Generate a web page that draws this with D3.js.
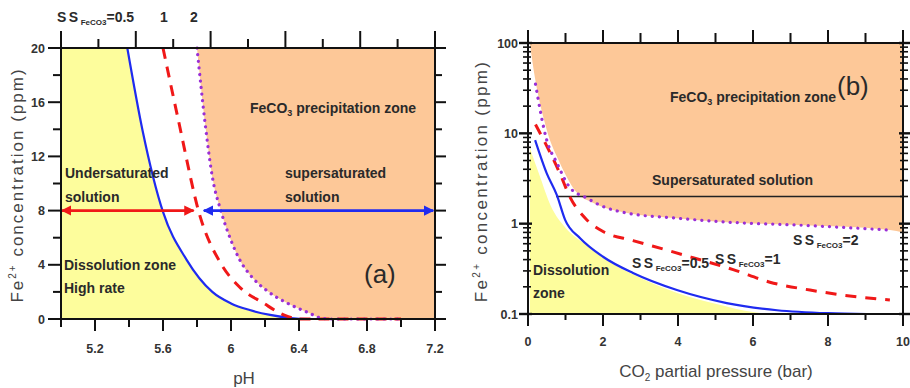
<!DOCTYPE html>
<html lang="en">
  <head>
    <meta charset="utf-8">
    <title>Fe2+ concentration vs pH and CO2 partial pressure</title>
    <style>
      body {
        margin: 0;
        background: #fff;
        font-family: "Liberation Sans", Arial, Helvetica, sans-serif
      }
      text { fill: #2a2a2a; }
      .zone { font-size: 14px; font-weight: bold; }
      .tick-label { font-size: 12.5px; font-weight: bold; fill: #333; }
      .axis-title { font-size: 17px; fill: #444; }
    </style>
  </head>
  <body>
    <div class="graph"></div>

    <script src="https://d3js.org/d3.v7.min.js"></script>
    <script>
      // ---- panel (a): Fe2+ (ppm) vs pH ----
      var phTicks = [5.2, 5.6, 6, 6.4, 6.8, 7.2];
      var ppmTicks = [0, 4, 8, 12, 16, 20];

      var phBlue = [5.39, 5.48, 5.60, 5.74, 5.89, 6.0, 6.11, 6.23, 6.35, 6.45, 7.0];
      var feBlue = [20, 13.9, 7.9, 4.35, 2.0, 1.15, 0.66, 0.3, 0.07, 0, 0];

      var phRed = [5.60, 5.69, 5.82, 5.94, 6.05, 6.19, 6.31, 6.40, 7.0];
      var feRed = [20, 14.7, 7.5, 4.1, 2.36, 1.18, 0.3, 0, 0];

      var phPurple = [5.80, 5.85, 5.89, 5.94, 6.00, 6.05, 6.13, 6.21, 6.33, 6.46, 6.53, 6.60, 7.0];
      var fePurple = [20, 14.2, 10.5, 8.0, 5.8, 4.4, 3.0, 2.1, 1.18, 0.44, 0.07, 0, 0];

      var arrowLevel = 8;
      var phUnder = [5.0, 5.78];
      var phSuper = [5.84, 7.19];

      // ---- panel (b): Fe2+ (ppm, log) vs CO2 partial pressure (bar) ----
      var pTicks = [0, 2, 4, 6, 8, 10];
      var logTicks = [0.1, 1, 10, 100];

      var pBlue = [0.19, 0.5, 0.77, 0.99, 1.39, 2.0, 2.8, 3.97, 5.3, 6.64, 8.0, 9.04];
      var feBlueB = [8.4, 3.6, 2.07, 1.1, 0.69, 0.43, 0.284, 0.184, 0.132, 0.110, 0.102, 0.1];

      var pRed = [0.2, 0.32, 0.85, 1.12, 1.57, 2.0, 2.8, 3.7, 4.4, 5.47, 6.45, 7.52, 8.4, 9.65];
      var feRedB = [12.5, 10.1, 3.6, 1.97, 1.1, 0.82, 0.65, 0.51, 0.42, 0.31, 0.225, 0.184, 0.162, 0.143];

      var pPurple = [0.2, 0.5, 0.77, 1.12, 1.57, 1.92, 2.64, 3.97, 5.3, 7.07, 9.65];
      var fePurpleB = [35, 8.4, 4.7, 2.5, 1.92, 1.6, 1.31, 1.15, 1.04, 0.97, 0.85];

      var pOrange = [0.05, 0.1, 0.5, 0.85, 1.31, 1.73, 2.64, 3.97, 5.3, 7.07, 9.65, 10];
      var feOrange = [100, 70, 10.9, 4.7, 2.18, 1.7, 1.31, 1.15, 1.04, 0.97, 0.85, 0.8];

      var pYellow = [0.05, 0.3, 0.6, 1.0, 1.5, 2.0, 3.0, 4.0, 5.0, 6.0, 6.4];
      var feYellow = [6.9, 3.5, 1.6, 0.9, 0.6, 0.42, 0.25, 0.17, 0.13, 0.105, 0.1];

      var pSuperLine = [0.75, 10];
      var superLevel = 2;

      var BLUE = '#1f2bf0', RED = '#f01818', PURPLE = '#9a2fd6',
          YELLOW = '#fdfd9c', ORANGE = '#fdc898';

      function zip(xs, ys) {
        return xs.map(function(v, i) { return [v, ys[i]]; });
      }

      var svg = d3.select('.graph')
                  .append('svg')
                  .attr('width', 910)
                  .attr('height', 388);

      var defs = svg.append('defs');
      [['red', RED], ['blue', BLUE]].forEach(function(m) {
        defs.append('marker')
            .attr('id', 'head-' + m[0])
            .attr('viewBox', '0 0 10 10')
            .attr('refX', 9).attr('refY', 5)
            .attr('markerWidth', 4).attr('markerHeight', 4)
            .attr('orient', 'auto-start-reverse')
            .append('path')
            .attr('d', 'M0,0L10,5L0,10Z')
            .attr('fill', m[1]);
      });

      // ================= panel (a) =================
      var xA = d3.scaleLinear().domain([5.0, 7.2]).range([61, 435]);
      var yA = d3.scaleLinear().domain([0, 20]).range([319, 48]);
      var gA = svg.append('g');

      var lineA = d3.line()
                    .x(function(d) { return xA(d[0]); })
                    .y(function(d) { return yA(d[1]); })
                    .curve(d3.curveMonotoneX);

      var blueA = zip(phBlue, feBlue), redA = zip(phRed, feRed), purA = zip(phPurple, fePurple);

      // yellow dissolution zone (left of blue curve)
      gA.append('path')
        .attr('d', lineA(blueA.slice(0, 10)) + 'L' + xA(5.0) + ',' + yA(0) + 'L' + xA(5.0) + ',' + yA(20) + 'Z')
        .attr('fill', YELLOW);
      // orange precipitation zone (right of purple curve)
      gA.append('path')
        .attr('d', lineA(purA.slice(0, 12)) + 'L' + xA(7.2) + ',' + yA(0) + 'L' + xA(7.2) + ',' + yA(20) + 'Z')
        .attr('fill', ORANGE);

      gA.append('path').attr('d', lineA(blueA)).attr('fill', 'none')
        .attr('stroke', BLUE).attr('stroke-width', 2.2);
      gA.append('path').attr('d', lineA(redA)).attr('fill', 'none')
        .attr('stroke', RED).attr('stroke-width', 3).attr('stroke-dasharray', '11,8');
      gA.append('path').attr('d', lineA(purA)).attr('fill', 'none')
        .attr('stroke', PURPLE).attr('stroke-width', 3.2)
        .attr('stroke-dasharray', '0.1,6.5').attr('stroke-linecap', 'round');

      // arrows at 8 ppm
      gA.append('line')
        .attr('x1', xA(phUnder[0]) + 1).attr('x2', xA(phUnder[1]))
        .attr('y1', yA(arrowLevel)).attr('y2', yA(arrowLevel))
        .attr('stroke', RED).attr('stroke-width', 2.6)
        .attr('marker-start', 'url(#head-red)').attr('marker-end', 'url(#head-red)');
      gA.append('line')
        .attr('x1', xA(phSuper[0])).attr('x2', xA(phSuper[1]))
        .attr('y1', yA(arrowLevel)).attr('y2', yA(arrowLevel))
        .attr('stroke', BLUE).attr('stroke-width', 2.6)
        .attr('marker-start', 'url(#head-blue)').attr('marker-end', 'url(#head-blue)');

      // frame
      gA.append('rect')
        .attr('x', xA(5.0)).attr('y', yA(20))
        .attr('width', xA(7.2) - xA(5.0)).attr('height', yA(0) - yA(20))
        .attr('fill', 'none').attr('stroke', '#111').attr('stroke-width', 2);

      // bottom axis ticks
      var phMinor = d3.range(5.0, 7.21, 0.2);
      gA.selectAll('.bt').data(phMinor).enter().append('line')
        .attr('x1', function(d) { return xA(d); }).attr('x2', function(d) { return xA(d); })
        .attr('y1', yA(0)).attr('y2', function(d) {
          return phTicks.some(function(t) { return Math.abs(t - d) < 1e-6; }) ? yA(0) + 12 : yA(0) + 8;
        })
        .attr('stroke', '#111').attr('stroke-width', 2);
      gA.selectAll('.bl').data(phTicks).enter().append('text')
        .attr('class', 'tick-label')
        .attr('x', function(d) { return xA(d); }).attr('y', 353)
        .attr('text-anchor', 'middle')
        .text(function(d) { return d; });

      // top axis ticks (ten divisions)
      var topDiv = d3.range(0, 11);
      gA.selectAll('.tt').data(topDiv).enter().append('line')
        .attr('x1', function(d) { return xA(5.0 + d * 0.22); })
        .attr('x2', function(d) { return xA(5.0 + d * 0.22); })
        .attr('y1', yA(20)).attr('y2', function(d) { return d % 2 === 0 ? yA(20) - 17 : yA(20) - 9; })
        .attr('stroke', '#111').attr('stroke-width', 2);

      // left / right axis ticks
      var ppmMinor = d3.range(0, 21, 2);
      gA.selectAll('.lt').data(ppmMinor).enter().append('line')
        .attr('x1', xA(5.0)).attr('x2', function(d) { return d % 4 === 0 ? xA(5.0) - 13 : xA(5.0) - 8; })
        .attr('y1', function(d) { return yA(d); }).attr('y2', function(d) { return yA(d); })
        .attr('stroke', '#111').attr('stroke-width', 2);
      gA.selectAll('.rt').data(ppmMinor).enter().append('line')
        .attr('x1', xA(7.2)).attr('x2', function(d) { return d % 4 === 0 ? xA(7.2) + 11 : xA(7.2) + 7; })
        .attr('y1', function(d) { return yA(d); }).attr('y2', function(d) { return yA(d); })
        .attr('stroke', '#111').attr('stroke-width', 2);
      gA.selectAll('.ll').data(ppmTicks).enter().append('text')
        .attr('class', 'tick-label')
        .attr('x', 45).attr('y', function(d) { return yA(d) + 4.5; })
        .attr('text-anchor', 'end')
        .text(function(d) { return d; });

      // axis titles
      gA.append('text').attr('class', 'axis-title')
        .attr('x', 244).attr('y', 384).attr('text-anchor', 'middle').text('pH');
      var ttlA = gA.append('text').attr('class', 'axis-title')
        .attr('transform', 'translate(23,185) rotate(-90)')
        .attr('letter-spacing', '2px')
        .attr('text-anchor', 'middle');
      ttlA.append('tspan').text('Fe');
      ttlA.append('tspan').attr('font-size', '10px').attr('dy', -7).text('2+');
      ttlA.append('tspan').attr('dy', 7).text(' concentration (ppm)');

      // SS labels above
      function ssLabel(g, x, y, val) {
        var t = g.append('text').attr('class', 'zone').attr('x', x).attr('y', y);
        t.append('tspan').attr('letter-spacing', '2.5px').text('SS');
        t.append('tspan').attr('font-size', '8px').attr('dy', 3).text('FeCO3');
        t.append('tspan').attr('dy', -3).text('=' + val);
      }
      ssLabel(gA, 57, 22, '0.5');
      gA.append('text').attr('class', 'zone').attr('x', 164).attr('y', 22)
        .attr('text-anchor', 'middle').text('1');
      gA.append('text').attr('class', 'zone').attr('x', 194).attr('y', 22)
        .attr('text-anchor', 'middle').text('2');

      // zone labels
      var precA = gA.append('text').attr('class', 'zone').attr('x', 250).attr('y', 113);
      precA.append('tspan').text('FeCO');
      precA.append('tspan').attr('font-size', '9px').attr('dy', 3).text('3');
      precA.append('tspan').attr('dy', -3).text(' precipitation zone');
      gA.append('text').attr('class', 'zone').attr('x', 65).attr('y', 178).text('Undersaturated');
      gA.append('text').attr('class', 'zone').attr('x', 65).attr('y', 202).text('solution');
      gA.append('text').attr('class', 'zone').attr('x', 285).attr('y', 178).text('supersaturated');
      gA.append('text').attr('class', 'zone').attr('x', 285).attr('y', 202).text('solution');
      gA.append('text').attr('class', 'zone').attr('x', 64).attr('y', 270).text('Dissolution zone');
      gA.append('text').attr('class', 'zone').attr('x', 64).attr('y', 293).text('High rate');
      gA.append('text').attr('x', 364).attr('y', 283)
        .attr('font-size', '26px').attr('fill', '#222').text('(a)');

      // ================= panel (b) =================
      var xB = d3.scaleLinear().domain([0, 10]).range([528, 903]);
      var yB = d3.scaleLog().domain([0.1, 100]).range([314, 43]);
      var gB = svg.append('g');

      var lineB = d3.line()
                    .x(function(d) { return xB(d[0]); })
                    .y(function(d) { return yB(d[1]); })
                    .curve(d3.curveMonotoneX);

      gB.append('path')
        .attr('d', lineB(zip(pOrange, feOrange)) + 'L' + xB(10) + ',' + yB(100) + 'Z')
        .attr('fill', ORANGE);
      gB.append('path')
        .attr('d', lineB(zip(pYellow, feYellow)) + 'L' + xB(pYellow[0]) + ',' + yB(0.1) + 'Z')
        .attr('fill', YELLOW);

      gB.append('line')
        .attr('x1', xB(pSuperLine[0])).attr('x2', xB(pSuperLine[1]))
        .attr('y1', yB(superLevel)).attr('y2', yB(superLevel))
        .attr('stroke', '#222').attr('stroke-width', 1.5);

      gB.append('path').attr('d', lineB(zip(pBlue, feBlueB))).attr('fill', 'none')
        .attr('stroke', BLUE).attr('stroke-width', 2.2);
      gB.append('path').attr('d', lineB(zip(pRed, feRedB))).attr('fill', 'none')
        .attr('stroke', RED).attr('stroke-width', 3).attr('stroke-dasharray', '11,9');
      gB.append('path').attr('d', lineB(zip(pPurple, fePurpleB))).attr('fill', 'none')
        .attr('stroke', PURPLE).attr('stroke-width', 3.2)
        .attr('stroke-dasharray', '0.1,7').attr('stroke-linecap', 'round');

      gB.append('rect')
        .attr('x', xB(0)).attr('y', yB(100))
        .attr('width', xB(10) - xB(0)).attr('height', yB(0.1) - yB(100))
        .attr('fill', 'none').attr('stroke', '#111').attr('stroke-width', 2);

      // x ticks bottom and top
      var pAll = d3.range(0, 11);
      gB.selectAll('.bt').data(pAll).enter().append('line')
        .attr('x1', function(d) { return xB(d); }).attr('x2', function(d) { return xB(d); })
        .attr('y1', yB(0.1)).attr('y2', function(d) { return d % 2 === 0 ? yB(0.1) + 12 : yB(0.1) + 6; })
        .attr('stroke', '#111').attr('stroke-width', 2);
      gB.selectAll('.tt').data(pAll).enter().append('line')
        .attr('x1', function(d) { return xB(d); }).attr('x2', function(d) { return xB(d); })
        .attr('y1', yB(100)).attr('y2', function(d) { return d % 2 === 0 ? yB(100) - 13 : yB(100) - 10; })
        .attr('stroke', '#111').attr('stroke-width', 2);
      gB.selectAll('.bl').data(pTicks).enter().append('text')
        .attr('class', 'tick-label')
        .attr('x', function(d) { return xB(d); }).attr('y', 346)
        .attr('text-anchor', 'middle')
        .text(function(d) { return d; });

      // log y ticks
      var logMinor = [];
      [0.1, 1, 10].forEach(function(dec) {
        d3.range(2, 10).forEach(function(k) { logMinor.push(dec * k); });
      });
      gB.selectAll('.lm').data(logMinor).enter().append('line')
        .attr('x1', xB(0) - 5).attr('x2', xB(0) + 3)
        .attr('y1', function(d) { return yB(d); }).attr('y2', function(d) { return yB(d); })
        .attr('stroke', '#111').attr('stroke-width', 1.6);
      gB.selectAll('.rm').data(logMinor).enter().append('line')
        .attr('x1', xB(10) - 3).attr('x2', xB(10) + 5)
        .attr('y1', function(d) { return yB(d); }).attr('y2', function(d) { return yB(d); })
        .attr('stroke', '#111').attr('stroke-width', 1.6);
      gB.selectAll('.lM').data(logTicks).enter().append('line')
        .attr('x1', xB(0) - 9).attr('x2', xB(0) + 4)
        .attr('y1', function(d) { return yB(d); }).attr('y2', function(d) { return yB(d); })
        .attr('stroke', '#111').attr('stroke-width', 2.4);
      gB.selectAll('.rM').data(logTicks).enter().append('line')
        .attr('x1', xB(10) - 4).attr('x2', xB(10) + 9)
        .attr('y1', function(d) { return yB(d); }).attr('y2', function(d) { return yB(d); })
        .attr('stroke', '#111').attr('stroke-width', 2.4);
      gB.selectAll('.ll').data(logTicks).enter().append('text')
        .attr('class', 'tick-label')
        .attr('x', 518).attr('y', function(d) { return yB(d) + 4.5; })
        .attr('text-anchor', 'end')
        .text(function(d) { return d; });

      var xtB = gB.append('text').attr('class', 'axis-title')
        .attr('x', 716).attr('y', 377).attr('text-anchor', 'middle');
      xtB.append('tspan').text('CO');
      xtB.append('tspan').attr('font-size', '10px').attr('dy', 4).text('2');
      xtB.append('tspan').attr('dy', -4).text(' partial pressure (bar)');

      var ttlB = gB.append('text').attr('class', 'axis-title')
        .attr('transform', 'translate(487,181) rotate(-90)')
        .attr('letter-spacing', '2.3px')
        .attr('text-anchor', 'middle');
      ttlB.append('tspan').text('Fe');
      ttlB.append('tspan').attr('font-size', '10px').attr('dy', -7).text('2+');
      ttlB.append('tspan').attr('dy', 7).text(' concentration (ppm)');

      var precB = gB.append('text').attr('class', 'zone').attr('x', 670).attr('y', 102);
      precB.append('tspan').text('FeCO');
      precB.append('tspan').attr('font-size', '9px').attr('dy', 3).text('3');
      precB.append('tspan').attr('dy', -3).text(' precipitation zone');
      gB.append('text').attr('x', 837).attr('y', 95)
        .attr('font-size', '26px').attr('fill', '#222').text('(b)');
      gB.append('text').attr('class', 'zone').attr('x', 652).attr('y', 185).text('Supersaturated solution');
      gB.append('text').attr('class', 'zone').attr('x', 533).attr('y', 275).text('Dissolution');
      gB.append('text').attr('class', 'zone').attr('x', 533).attr('y', 298).text('zone');

      ssLabel(gB, 793, 245, '2');
      ssLabel(gB, 715, 264, '1');
      ssLabel(gB, 632, 268, '0.5');
    </script>
  </body>
</html>
